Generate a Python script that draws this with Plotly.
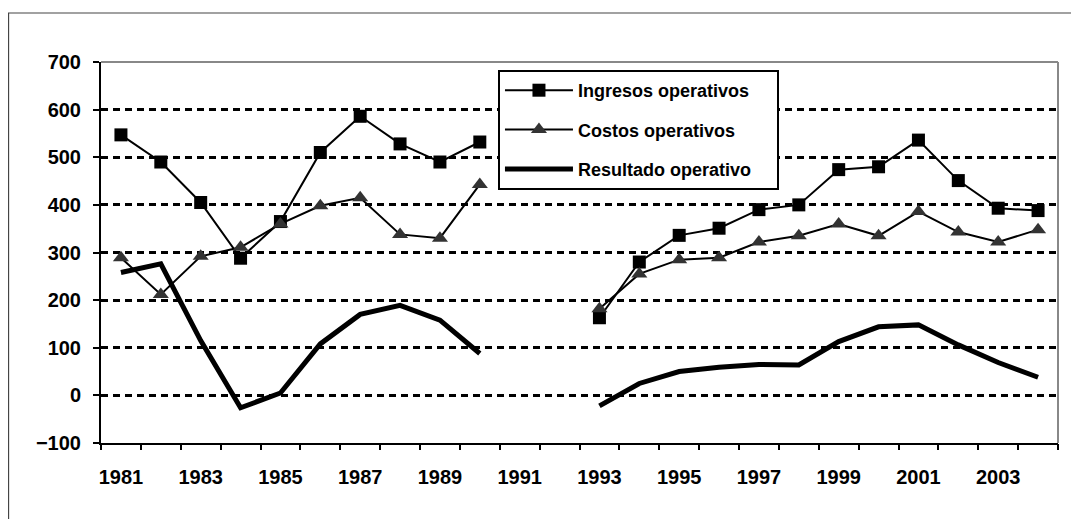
import plotly.graph_objects as go

years = list(range(1981, 2005))
ingresos = [547, 490, 405, 288, 365, 510, 586, 528, 490, 532, None, None,
            163, 280, 336, 351, 390, 400, 474, 480, 536, 451, 393, 388]
costos = [289, 212, 292, 311, 360, 398, 415, 338, 330, 443, None, None,
          182, 255, 285, 289, 322, 335, 360, 335, 386, 343, 322, 348]
resultado = [258, 276, 115, -26, 5, 108, 170, 189, 158, 88, None, None,
             -22, 25, 50, 59, 65, 64, 113, 144, 148, 106, 69, 38]
tick_years = list(range(1981, 2004, 2))
boundaries = [y - 0.5 for y in years] + [years[-1] + 0.5]
series_names = ["Ingresos operativos", "Costos operativos",
                "Resultado operativo\u00a0\u00a0\u00a0\u00a0"]

FONT = "Liberation Sans, Arial, sans-serif"

fig = go.Figure()
fig.add_trace(go.Scatter(
    x=years, y=ingresos, name=series_names[0], mode="lines+markers",
    line=dict(color="black", width=2),
    marker=dict(symbol="square", size=13, color="black"),
    legendgroup="g1"))
fig.add_trace(go.Scatter(
    x=years, y=costos, name=series_names[1], mode="lines+markers",
    line=dict(color="black", width=2),
    marker=dict(symbol="triangle-up", size=14, color="#333333"),
    legendgroup="g2"))
fig.add_trace(go.Scatter(
    x=years, y=resultado, name=series_names[2], mode="lines",
    line=dict(color="black", width=5),
    legendgroup="g3"))
# empty helper trace so the category-boundary tick axis is drawn
fig.add_trace(go.Scatter(x=[], y=[], xaxis="x2", yaxis="y",
                         showlegend=False, hoverinfo="skip"))

# page body has an 8px margin, so the figure starts at (8, 8)
fig.update_layout(
    width=1071, height=511,
    margin=dict(l=93, r=21, t=54, b=76),
    paper_bgcolor="white", plot_bgcolor="white",
    font=dict(family=FONT, size=18, color="black", weight="bold"),
    showlegend=True,
    legend=dict(
        x=0.4148, y=0.979, xanchor="left", yanchor="top",
        bgcolor="white", bordercolor="black", borderwidth=2,
        font=dict(family=FONT, size=18, color="black", weight="bold"),
        traceorder="grouped", tracegroupgap=13, itemwidth=68,
    ),
    xaxis=dict(
        type="linear", range=[1980.5, 2004.5],
        tickmode="array", tickvals=tick_years,
        ticktext=[str(y) for y in tick_years],
        ticks="", showgrid=False, zeroline=False,
        showline=True, linecolor="black", linewidth=2,
        ticklabelstandoff=15,
        tickfont=dict(family=FONT, size=20, color="black", weight="bold"),
    ),
    xaxis2=dict(
        type="linear", range=[1980.5, 2004.5], overlaying="x", side="bottom",
        anchor="y", tickmode="array", tickvals=boundaries,
        showticklabels=False, ticks="outside", ticklen=6, tickwidth=2,
        tickcolor="black", showgrid=False, zeroline=False, showline=False,
    ),
    yaxis=dict(
        range=[-100, 700], dtick=100, tick0=0,
        ticks="outside", ticklen=6, tickwidth=2, tickcolor="black",
        showline=True, linecolor="black", linewidth=2,
        showgrid=True, gridcolor="black", gridwidth=2.5, griddash="7px,5px",
        zeroline=False, ticklabelstandoff=8,
        tickfont=dict(family=FONT, size=20, color="black", weight="bold"),
    ),
    shapes=[
        dict(type="line", xref="paper", yref="paper", x0=0, x1=1, y0=1, y1=1,
             line=dict(color="#888888", width=2), layer="above"),
        dict(type="line", xref="paper", yref="paper", x0=1, x1=1, y0=0, y1=1,
             line=dict(color="#888888", width=2), layer="above"),
        dict(type="rect", xref="paper", yref="paper",
             x0=-0.0966, x1=1.04, y0=-0.22, y1=1.1286,
             line=dict(color="#444444", width=1.2), layer="above"),
    ],
)

fig.write_html("out.html")
